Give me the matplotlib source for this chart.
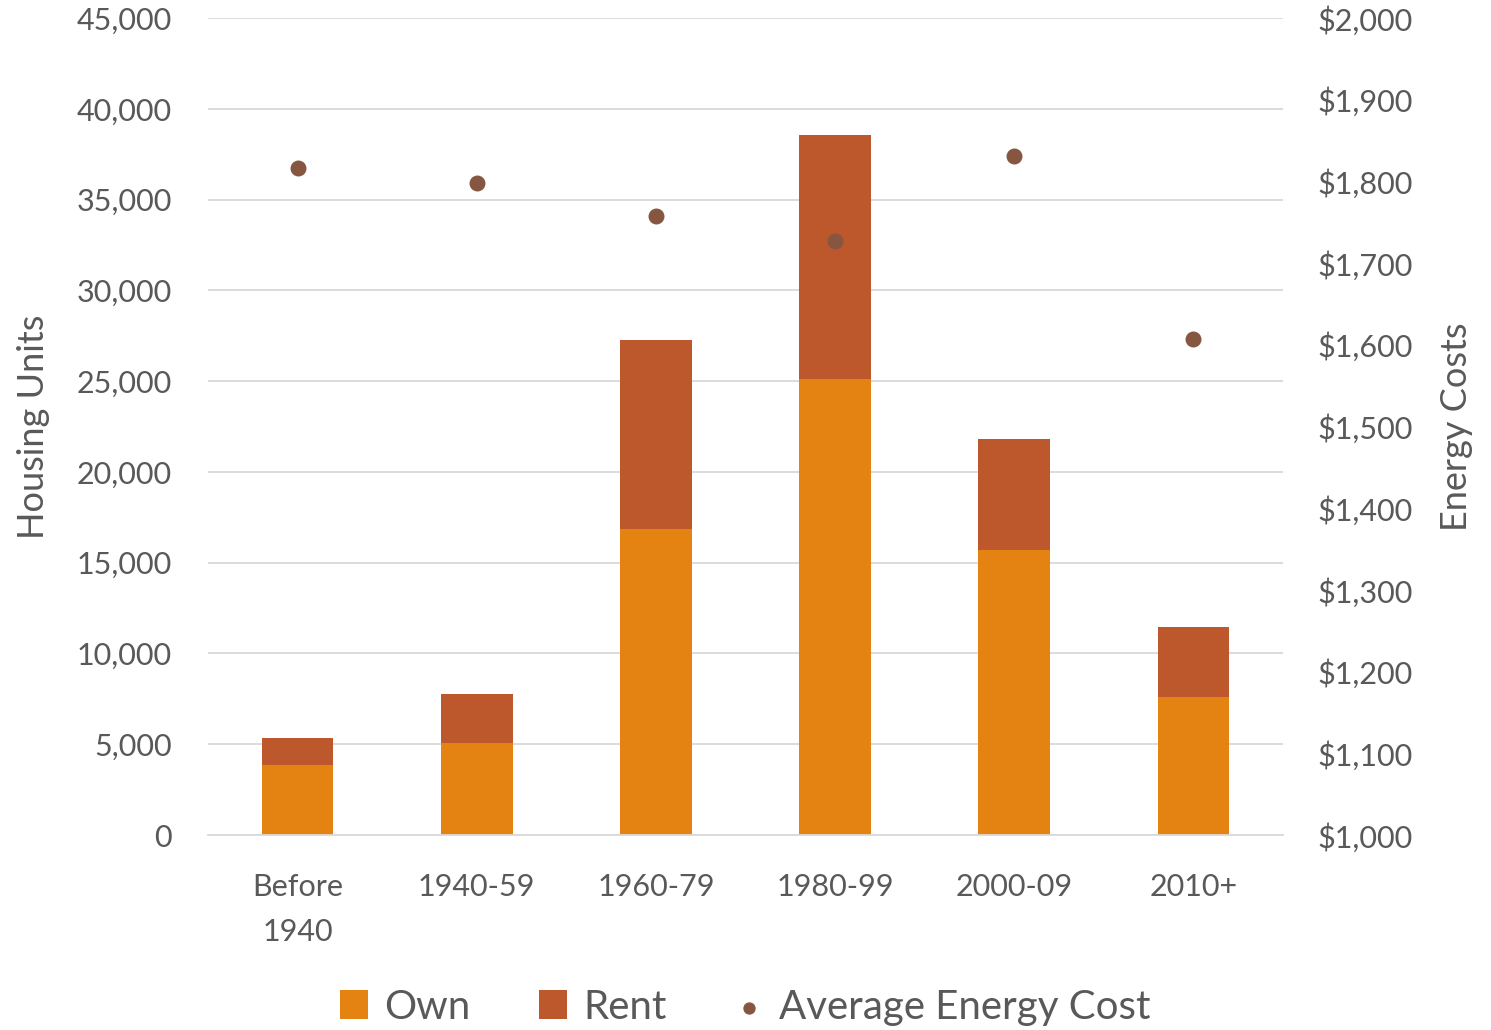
import numpy as np
import matplotlib
matplotlib.use('Agg')
import matplotlib.pyplot as plt
from matplotlib.ticker import FuncFormatter

plt.rcParams['font.family'] = ['Lato', 'DejaVu Sans']

categories = ['Before\n1940', '1940-59', '1960-79', '1980-99', '2000-09', '2010+']
own = [3850, 5050, 16850, 25100, 15700, 7600]
rent = [1500, 2700, 10400, 13450, 6100, 3850]
energy_cost = [1816, 1798, 1758, 1727, 1831, 1607]

own_color = '#E48312'
rent_color = '#BD582C'
dot_color = '#875640'
text_color = '#595959'
grid_color = '#D9D9D9'

fig = plt.figure(figsize=(14.91, 10.30), dpi=100)
ax = fig.add_axes([0.1395, 0.1893, 0.721, 0.7932])
x = np.arange(len(categories))

ax.bar(x, own, width=0.4, color=own_color, label='Own', zorder=2)
ax.bar(x, rent, width=0.4, bottom=own, color=rent_color, label='Rent', zorder=2)

ax.set_ylim(0, 45000)
ax.set_xlim(-0.5, len(categories) - 0.5)
ax.set_yticks(np.arange(0, 45001, 5000))
ax.yaxis.set_major_formatter(FuncFormatter(lambda v, p: f'{int(v):,}'))
ax.set_xticks(x)
ax.set_xticklabels(categories, linespacing=1.75, va='top')
ax.grid(axis='y', color=grid_color, linewidth=1.3, zorder=0)
for s in ['top', 'right', 'left']:
    ax.spines[s].set_visible(False)
ax.spines['bottom'].set_color(grid_color)
ax.spines['bottom'].set_linewidth(1.3)
ax.tick_params(axis='both', length=0, labelsize=22, colors=text_color)
ax.tick_params(axis='x', pad=27)
ax.tick_params(axis='y', pad=26)
ax.set_ylabel('Housing Units', fontsize=26, color=text_color)
ax.yaxis.set_label_coords(-0.147, 0.5)

ax2 = ax.twinx()
ax2.scatter(x, energy_cost, s=110, color=dot_color, zorder=3, label='Average Energy Cost')
ax2.set_ylim(1000, 2000)
ax2.set_yticks(np.arange(1000, 2001, 100))
ax2.yaxis.set_major_formatter(FuncFormatter(lambda v, p: f'${int(v):,}'))
for s in ['top', 'right', 'left', 'bottom']:
    ax2.spines[s].set_visible(False)
ax2.tick_params(axis='y', length=0, labelsize=22, colors=text_color, pad=25)
ax2.set_ylabel('Energy Costs', fontsize=26, color=text_color)
ax2.yaxis.set_label_coords(1.146, 0.5)

h1, l1 = ax.get_legend_handles_labels()
h2, l2 = ax2.get_legend_handles_labels()
fig.legend(h1 + h2, l1 + l2, loc='lower center', bbox_to_anchor=(0.5, -0.031), ncol=3,
           frameon=False, fontsize=29, labelcolor=text_color, handlelength=0.7,
           handleheight=0.7, handletextpad=0.4, columnspacing=1.7, markerscale=0.75)

plt.savefig('out.png', dpi=100)
